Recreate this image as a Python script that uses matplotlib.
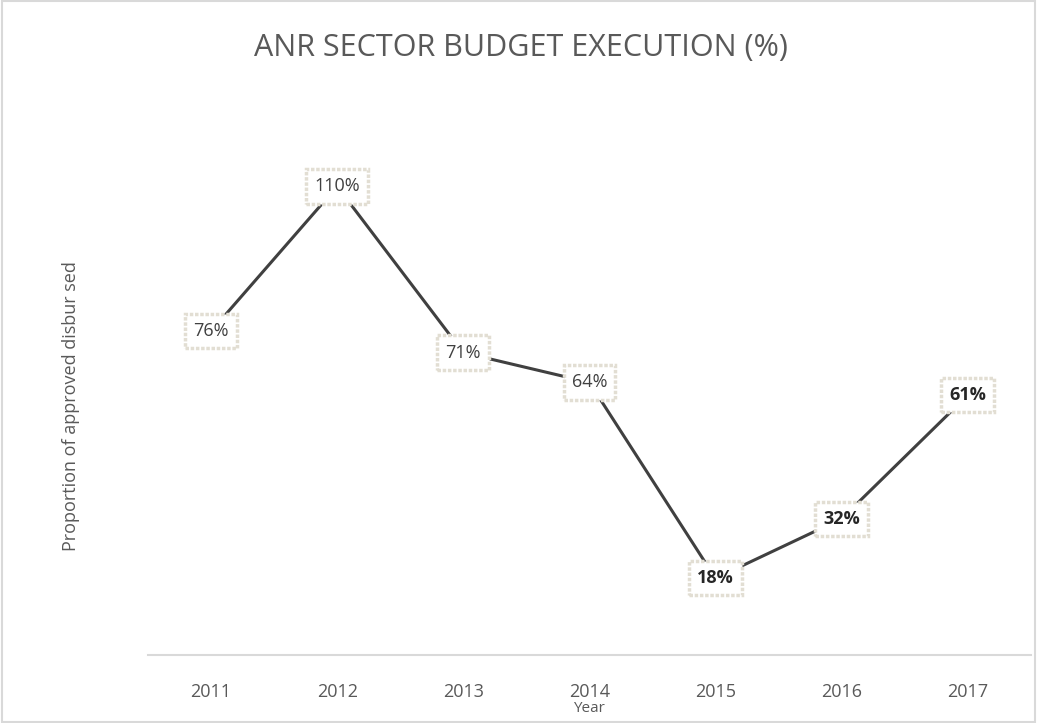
import matplotlib.pyplot as plt
from matplotlib.patches import Rectangle

years = ['2011', '2012', '2013', '2014', '2015', '2016', '2017']
execution = [76, 110, 71, 64, 18, 32, 61]
bold_labels = [False, False, False, False, True, True, True]

plt.rcParams['font.family'] = ['Open Sans', 'DejaVu Sans']

fig = plt.figure(figsize=(10.37, 7.23), dpi=100)
ax = fig.add_axes([0.1427, 0.094, 0.8513, 0.707])

x = list(range(len(years)))
ax.plot(x, execution, color='#404040', lw=2.2, solid_capstyle='butt', zorder=2)

# data labels in dotted boxes
for xi, v, b in zip(x, execution, bold_labels):
    ax.text(xi, v, f'{v}%', ha='center', va='center', fontsize=13,
            color='#262626' if b else '#404040',
            fontweight='bold' if b else 'normal', zorder=3,
            bbox=dict(boxstyle='square,pad=0.45', fc='white', ec='#e2ded3',
                      lw=2.5, ls=(0, (1, 0.5))))

ax.set_xlim(-0.5, len(years) - 0.5)
ax.set_ylim(0, 120)
ax.set_xticks(x)
ax.set_xticklabels(years, fontsize=13, color='#595959')
ax.set_yticks([])
ax.tick_params(axis='x', length=0, pad=20)

for s in ['top', 'right', 'left']:
    ax.spines[s].set_visible(False)
ax.spines['bottom'].set_color('#d9d9d9')
ax.spines['bottom'].set_linewidth(1.5)

ax.set_xlabel('Year', fontsize=11, color='#595959', labelpad=0)
fig.text(0.068, 0.438, 'Proportion of approved disbur sed', rotation=90,
         ha='center', va='center', fontsize=13, color='#595959')

fig.text(0.502, 0.933, 'ANR SECTOR BUDGET EXECUTION (%)', ha='center',
         va='center', fontsize=22, color='#595959')

# light outer frame
fig.patches.append(Rectangle((0.002, 0.002), 0.996, 0.996, transform=fig.transFigure,
                             fill=False, ec='#d9d9d9', lw=1.5))

fig.savefig('out.png', dpi=100, facecolor='white')
